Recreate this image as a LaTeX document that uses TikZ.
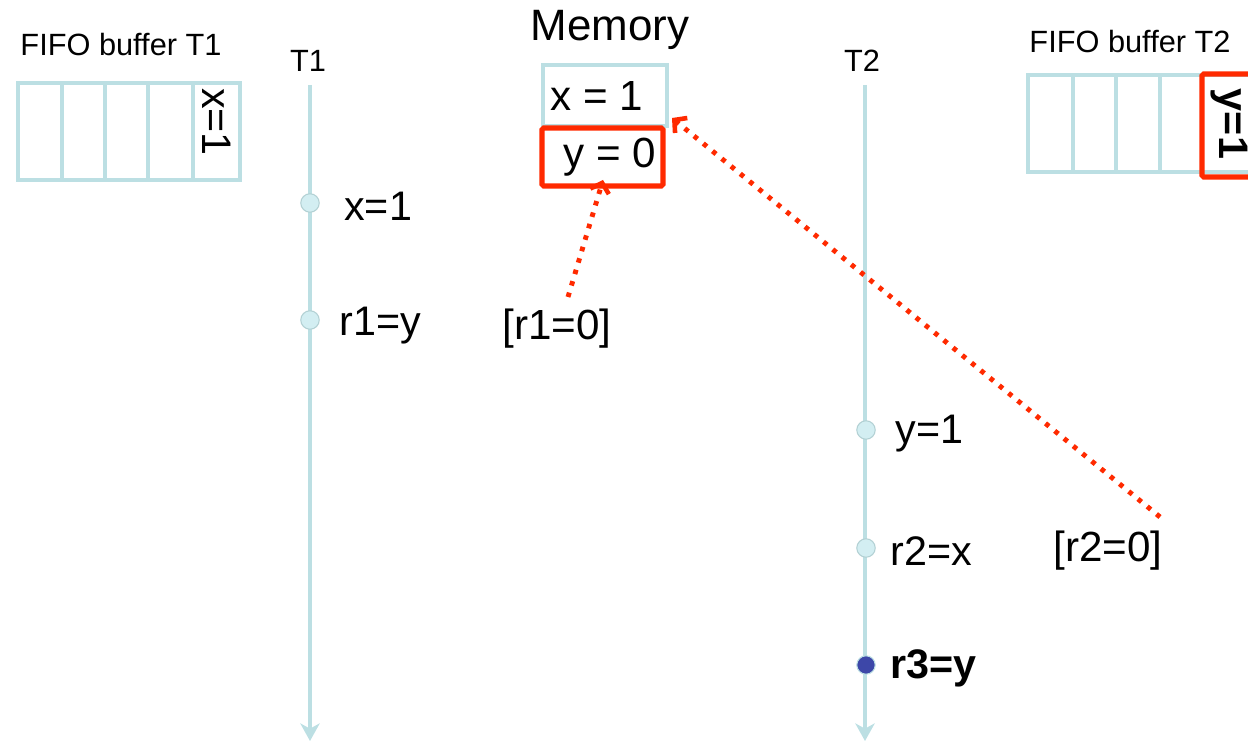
\documentclass[tikz,border=0pt]{standalone}
\usepackage{fontspec}
\setmainfont{Liberation Sans}
\usetikzlibrary{arrows.meta}
\definecolor{lblue}{HTML}{BCDFE3}
\definecolor{dotfill}{HTML}{D3EEF2}
\definecolor{rred}{HTML}{FF2A00}
\definecolor{dblue}{HTML}{3D47A8}
\tikzset{
  buf/.style={draw=lblue, line width=2.3pt},
  redbox/.style={draw=rred, line width=2.9pt, rounded corners=1pt},
  tline/.style={draw=lblue, line width=2.3pt, -{Stealth[length=10pt,width=11pt,inset=3pt]}},
  ev/.style={circle, draw=lblue!85!gray, line width=0.6pt, fill=dotfill, minimum size=10.5pt, inner sep=0pt},
  evb/.style={circle, draw=lblue, line width=0.6pt, fill=dblue, minimum size=10.5pt, inner sep=0pt},
  lab/.style={font=\fontsize{23.5}{26}\selectfont, anchor=west, inner sep=0pt},
  small/.style={font=\fontsize{17.5}{20}\selectfont, inner sep=0pt},
  redarrow/.style={draw=rred, line width=2.8pt, dash pattern=on 2.6pt off 4.2pt, -{Straight Barb[length=5pt,width=11pt,line width=2.6pt]}},
}
\begin{document}
\begin{tikzpicture}[x=0.02cm, y=-0.02cm]
\useasboundingbox (0,0) rectangle (1248,742);
\clip (0,0) rectangle (1248,742);

% FIFO buffer T1
\node[small] (fifo1) at (121,45) {FIFO buffer T1};
\draw[buf] (18,83) rectangle (240,180);
\foreach \xx in {62,105,148,193} \draw[buf] (\xx,83) -- (\xx,180);
\node[font=\fontsize{23.5}{26}\selectfont, rotate=-90, inner sep=0pt] (bx) at (217,122) {x=1};

% FIFO buffer T2
\node[small] (fifo2) at (1130,42) {FIFO buffer T2};
\draw[buf] (1028,75) rectangle (1300,172);
\foreach \xx in {1073,1116,1160} \draw[buf] (\xx,75) -- (\xx,172);
\draw[redbox] (1202,74) rectangle (1270,177);
\node[font=\fontsize{23.5}{26}\selectfont\bfseries, rotate=-90, inner sep=0pt] (by) at (1229,124) {y=1};

% Memory
\node[font=\fontsize{25}{28}\selectfont, inner sep=0pt] (mem) at (610,30) {Memory};
\draw[buf] (543,65) rectangle (667,126);
\node[font=\fontsize{24}{27}\selectfont, inner sep=0pt] (mx) at (597,96) {x = 1};
\draw[redbox] (542,128) rectangle (663,186);
\node[font=\fontsize{24}{27}\selectfont, inner sep=0pt] (my) at (610,157) {y = 0};
\coordinate (ytip) at (603,180);
\coordinate (xtip) at (672,118);

% Thread T1
\node[small] (t1) at (308,61) {T1};
\coordinate (t1top) at (310,85);
\coordinate (t1bot) at (310,741);
\draw[tline] (t1top) -- (t1bot);
\node[ev] (e1) at (310,203) {};
\node[ev] (e2) at (310,320) {};
\node[lab] at (344,206) {x=1};
\node[lab] at (339,326) {r1=y};

% Thread T2
\node[small] (t2) at (862,61) {T2};
\coordinate (t2top) at (865,85);
\coordinate (t2bot) at (865,741);
\draw[tline] (t2top) -- (t2bot);
\node[ev] (f1) at (866,430) {};
\node[ev] (f2) at (866,548) {};
\node[evb] (f3) at (866,665) {};
\node[lab] at (895,434) {y=1};
\node[lab] at (890,551) {r2=x};
\node[lab, font=\fontsize{23.5}{26}\selectfont\bfseries] at (890,668) {r3=y};

% read values
\node[font=\fontsize{24}{27}\selectfont, inner sep=0pt] (r1) at (557,329) {[r1=0]};
\node[font=\fontsize{24}{27}\selectfont, inner sep=0pt] (r2) at (1108,551) {[r2=0]};
\coordinate (r1s) at (568,297);
\coordinate (r2s) at (1160,517);
\draw[redarrow] (r1s) -- (ytip);
\draw[redarrow] (r2s) -- (xtip);
\end{tikzpicture}
\end{document}
